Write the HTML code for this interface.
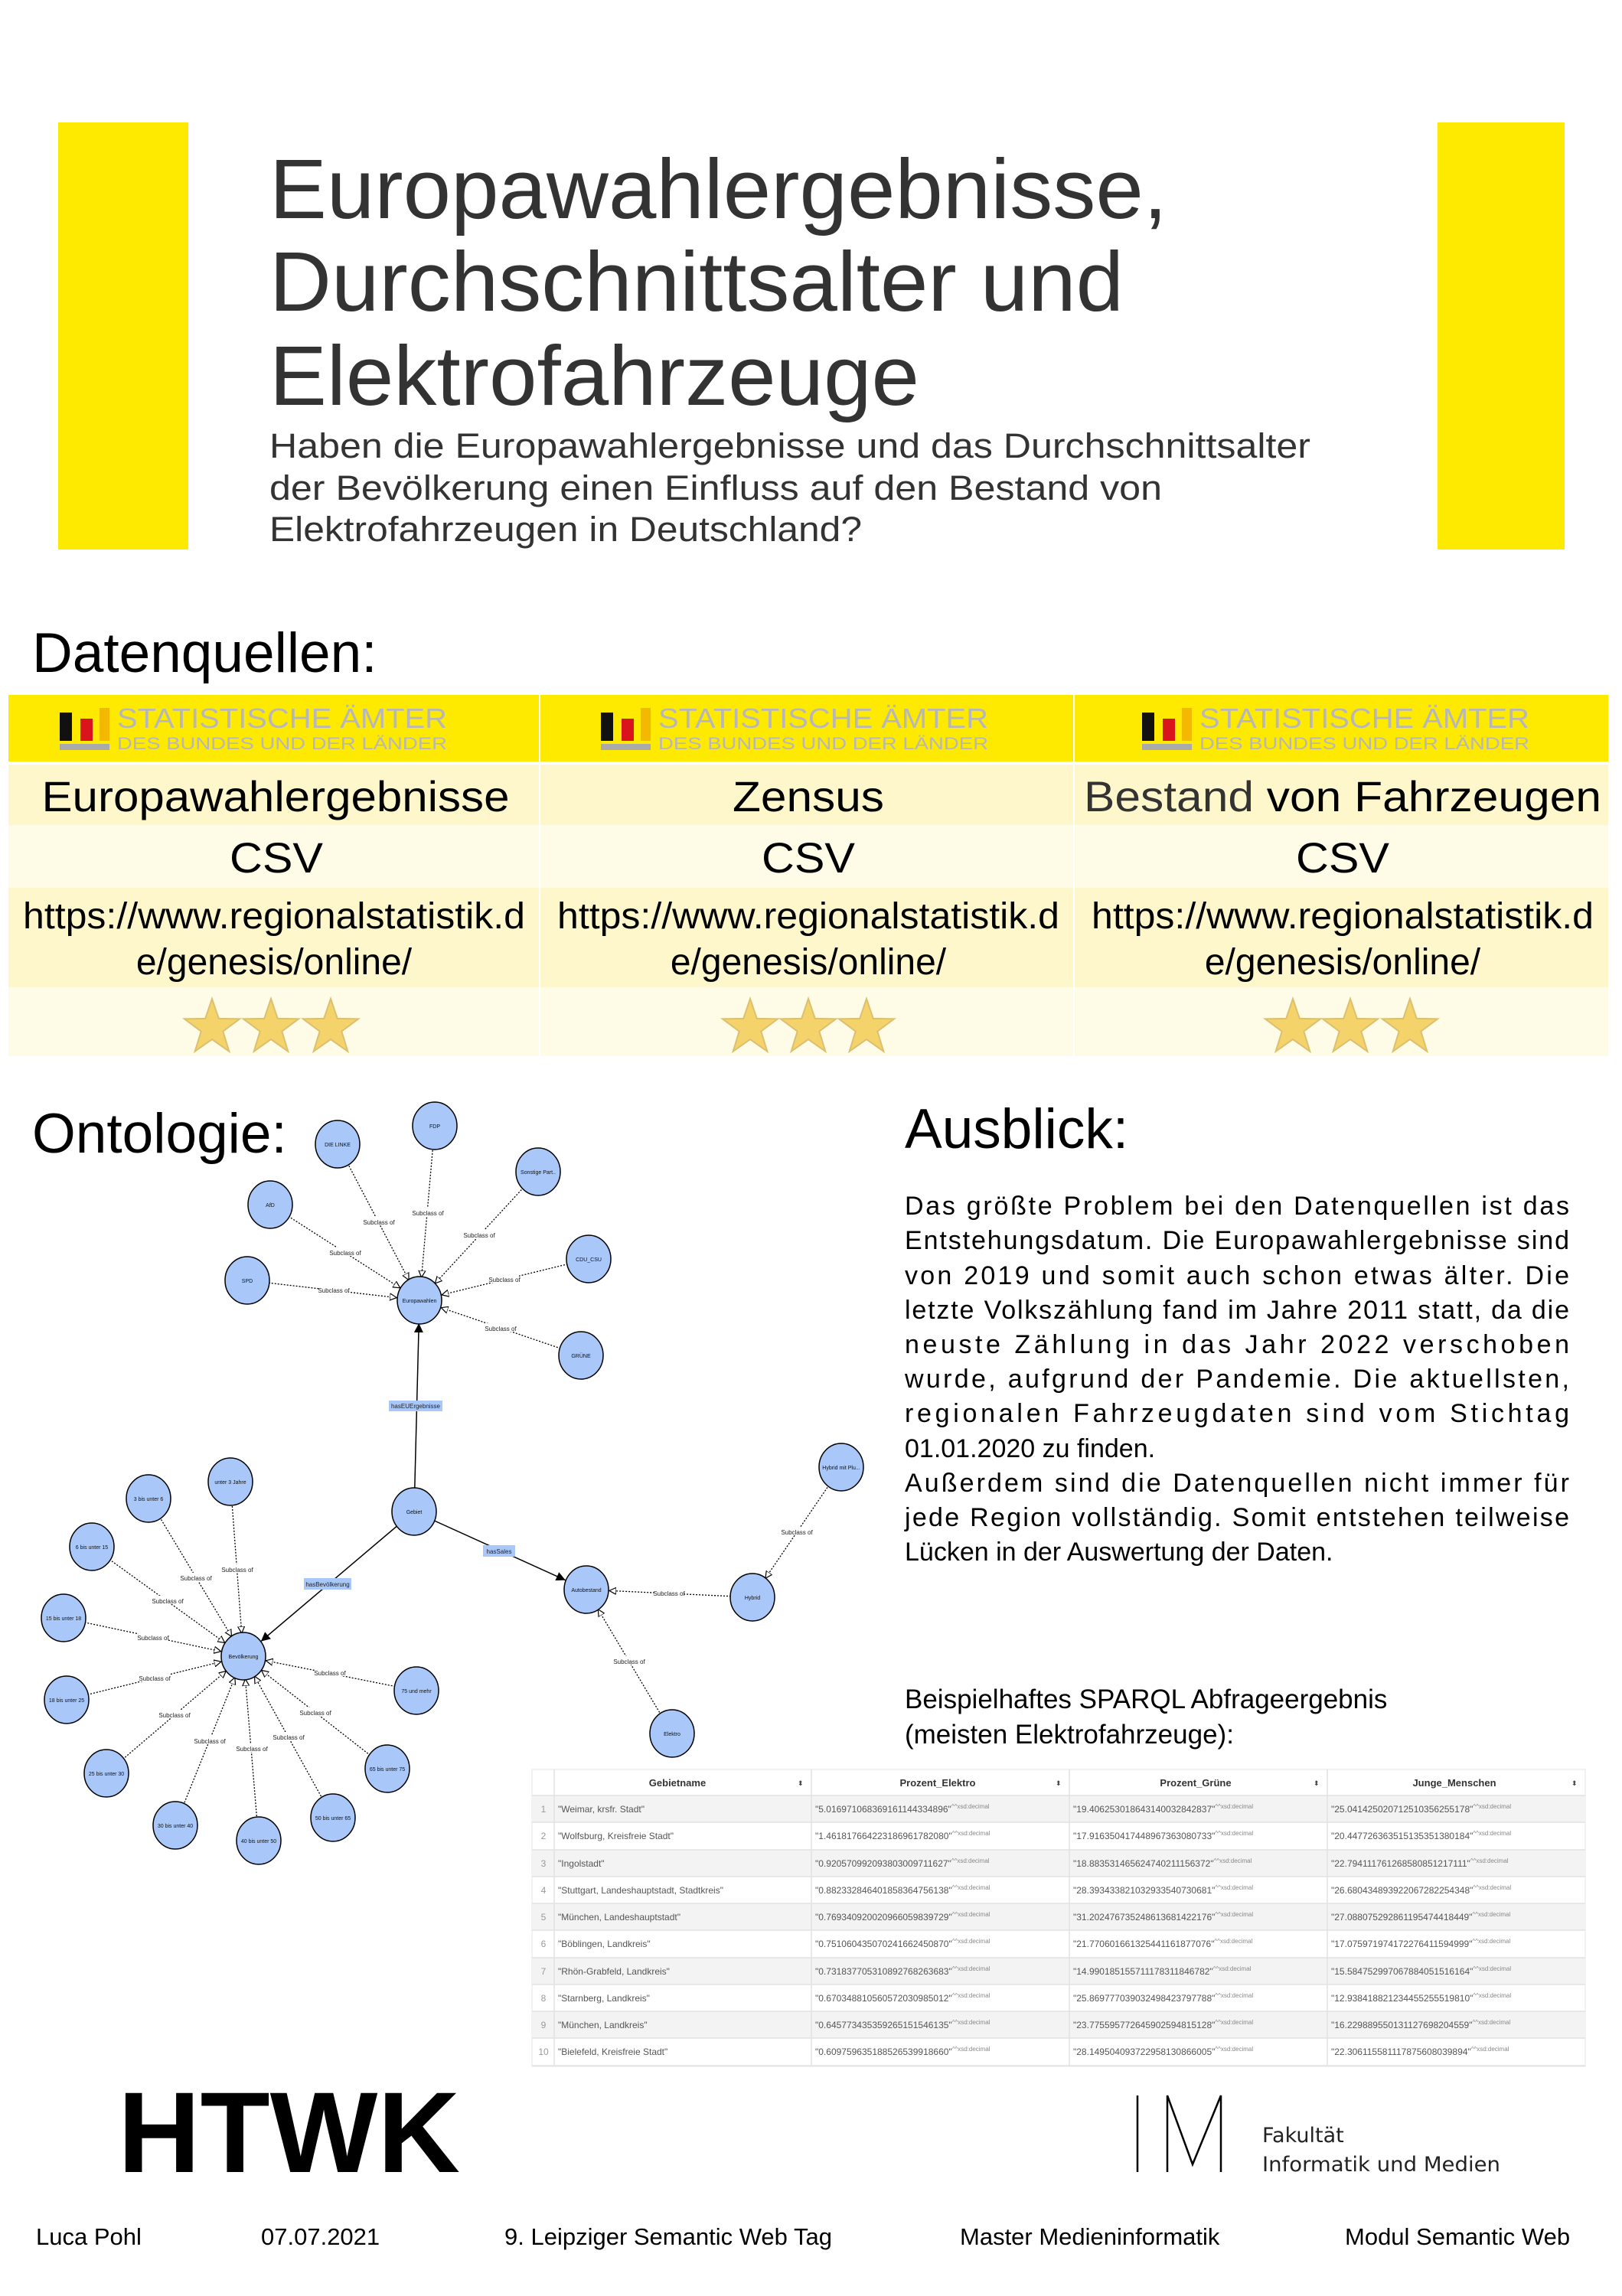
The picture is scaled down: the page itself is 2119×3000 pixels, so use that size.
<!DOCTYPE html>
<html><head><meta charset="utf-8"><style>
html,body{margin:0;padding:0;background:#fff}
svg{display:block}
</style></head><body>
<svg width="2119" height="3000" viewBox="0 0 2119 3000" xmlns="http://www.w3.org/2000/svg" font-family="Liberation Sans, sans-serif">
<defs>
<marker id="op" markerUnits="userSpaceOnUse" viewBox="0 0 10 10" markerWidth="10" markerHeight="10" refX="39" refY="5" orient="auto"><path d="M0,0.5 L9,5 L0,9.5 z" fill="#fff" stroke="#000" stroke-width="1.2"/></marker>
<marker id="fl" markerUnits="userSpaceOnUse" viewBox="0 0 12 12" markerWidth="12" markerHeight="12" refX="42" refY="6" orient="auto"><path d="M0,0 L12,6 L0,12 z" fill="#000"/></marker>
<polygon id="star" points="0,-38 8.8,-12.1 36.1,-11.7 14.3,4.6 22.3,30.7 0,15 -22.3,30.7 -14.3,4.6 -36.1,-11.7 -8.8,-12.1" fill="#f4d36b" stroke="#dcc070" stroke-width="2"/>
</defs>
<rect width="2119" height="3000" fill="#fff"/>

<!-- header -->
<rect x="76" y="160" width="170" height="558" fill="#feea00"/>
<rect x="1878" y="160" width="166" height="558" fill="#feea00"/>
<g fill="#333">
<text x="352" y="285" font-size="110" textLength="1173" lengthAdjust="spacingAndGlyphs">Europawahlergebnisse,</text>
<text x="352" y="406" font-size="110" textLength="1116" lengthAdjust="spacingAndGlyphs">Durchschnittsalter und</text>
<text x="352" y="529" font-size="110" textLength="849" lengthAdjust="spacingAndGlyphs">Elektrofahrzeuge</text>
<text x="352" y="598" font-size="45" textLength="1360" lengthAdjust="spacingAndGlyphs">Haben die Europawahlergebnisse und das Durchschnittsalter</text>
<text x="352" y="653" font-size="45" textLength="1166" lengthAdjust="spacingAndGlyphs">der Bevölkerung einen Einfluss auf den Bestand von</text>
<text x="352" y="707" font-size="45" textLength="774" lengthAdjust="spacingAndGlyphs">Elektrofahrzeugen in Deutschland?</text>
</g>

<text x="42" y="878" font-size="73" fill="#000">Datenquellen:</text>

<!-- sources table -->
<rect x="11" y="908" width="2090" height="87" fill="#feea00"/>
<rect x="11" y="999" width="2090" height="79" fill="#fef7cc"/>
<rect x="11" y="1078" width="2090" height="82" fill="#fefbe6"/>
<rect x="11" y="1160" width="2090" height="130" fill="#fef7cc"/>
<rect x="11" y="1290" width="2090" height="90" fill="#fefbe6"/>
<rect x="704" y="908" width="2" height="472" fill="#fff"/>
<rect x="1402" y="908" width="2" height="472" fill="#fff"/>
<g id="logo">
<rect x="78" y="931" width="16" height="37" fill="#111"/>
<rect x="105" y="939" width="16" height="29" fill="#d9141c"/>
<rect x="130" y="925" width="13" height="43" fill="#f5b800"/>
<rect x="78" y="972" width="65" height="8" fill="#aaa"/>
<text x="153" y="951" font-size="36" fill="#b6b6bc" textLength="431" lengthAdjust="spacingAndGlyphs">STATISTISCHE ÄMTER</text>
<text x="153" y="979" font-size="22" fill="#b6b6bc" textLength="431" lengthAdjust="spacingAndGlyphs">DES BUNDES UND DER LÄNDER</text>
</g>
<use href="#logo" x="707"/>
<use href="#logo" x="1414"/>
<g font-size="56" fill="#000" text-anchor="middle">
<text x="360" y="1060" textLength="611" lengthAdjust="spacingAndGlyphs">Europawahlergebnisse</text>
<text x="1056" y="1060" textLength="198" lengthAdjust="spacingAndGlyphs">Zensus</text>
<text x="1754" y="1060" textLength="676" lengthAdjust="spacingAndGlyphs"><tspan fill="#333">Bestand</tspan> von Fahrzeugen</text>
<text x="361" y="1140" textLength="122" lengthAdjust="spacingAndGlyphs">CSV</text>
<text x="1056" y="1140" textLength="122" lengthAdjust="spacingAndGlyphs">CSV</text>
<text x="1754" y="1140" textLength="122" lengthAdjust="spacingAndGlyphs">CSV</text>
</g>
<g font-size="48" fill="#000" text-anchor="middle">
<text x="358" y="1213" textLength="656" lengthAdjust="spacingAndGlyphs">https://www.regionalstatistik.d</text>
<text x="358" y="1273">e/genesis/online/</text>
<text x="1056" y="1213" textLength="656" lengthAdjust="spacingAndGlyphs">https://www.regionalstatistik.d</text>
<text x="1056" y="1273">e/genesis/online/</text>
<text x="1754" y="1213" textLength="656" lengthAdjust="spacingAndGlyphs">https://www.regionalstatistik.d</text>
<text x="1754" y="1273">e/genesis/online/</text>
</g>
<use href="#star" x="277" y="1343"/><use href="#star" x="354" y="1343"/><use href="#star" x="432" y="1343"/>
<use href="#star" x="980" y="1343"/><use href="#star" x="1056" y="1343"/><use href="#star" x="1132" y="1343"/>
<use href="#star" x="1689" y="1343"/><use href="#star" x="1764" y="1343"/><use href="#star" x="1842" y="1343"/>

<text x="42" y="1506" font-size="73" fill="#000">Ontologie:</text>

<!-- ontology edges -->
<g stroke="#000" stroke-width="1.3" stroke-dasharray="2,2" fill="none" marker-end="url(#op)">
<line x1="441" y1="1495" x2="548" y2="1699"/>
<line x1="568" y1="1471" x2="548" y2="1699"/>
<line x1="703" y1="1531" x2="548" y2="1699"/>
<line x1="353" y1="1574" x2="548" y2="1699"/>
<line x1="769" y1="1645" x2="548" y2="1699"/>
<line x1="323" y1="1673" x2="548" y2="1699"/>
<line x1="759" y1="1771" x2="548" y2="1699"/>
<line x1="1099" y1="1917" x2="983" y2="2087"/>
<line x1="983" y1="2087" x2="766" y2="2077"/>
<line x1="878" y1="2265" x2="766" y2="2077"/>
<line x1="301" y1="1936" x2="318" y2="2164"/>
<line x1="194" y1="1958" x2="318" y2="2164"/>
<line x1="120" y1="2021" x2="318" y2="2164"/>
<line x1="83" y1="2114" x2="318" y2="2164"/>
<line x1="87" y1="2221" x2="318" y2="2164"/>
<line x1="544" y1="2209" x2="318" y2="2164"/>
<line x1="139" y1="2317" x2="318" y2="2164"/>
<line x1="506" y1="2311" x2="318" y2="2164"/>
<line x1="229" y1="2385" x2="318" y2="2164"/>
<line x1="435" y1="2375" x2="318" y2="2164"/>
<line x1="338" y1="2405" x2="318" y2="2164"/>
</g>
<g stroke="#000" stroke-width="1.5" fill="none" marker-end="url(#fl)">
<line x1="541" y1="1975" x2="548" y2="1699"/>
<line x1="541" y1="1975" x2="318" y2="2164"/>
<line x1="541" y1="1975" x2="766" y2="2077"/>
</g>
<!-- subclass labels -->
<g font-size="8" fill="#222" text-anchor="middle">
<g fill="#fff"><rect x="432" y="1630" width="38" height="11"/><rect x="476" y="1590" width="38" height="11"/><rect x="540" y="1578" width="38" height="11"/><rect x="607" y="1607" width="38" height="11"/><rect x="640" y="1665" width="38" height="11"/><rect x="417" y="1679" width="38" height="11"/><rect x="635" y="1729" width="38" height="11"/><rect x="1022" y="1995" width="38" height="11"/><rect x="855" y="2075" width="38" height="11"/><rect x="803" y="2164" width="38" height="11"/><rect x="291" y="2044" width="38" height="11"/><rect x="237" y="2055" width="38" height="11"/><rect x="200" y="2085" width="38" height="11"/><rect x="181" y="2133" width="38" height="11"/><rect x="183" y="2186" width="38" height="11"/><rect x="209" y="2234" width="38" height="11"/><rect x="255" y="2268" width="38" height="11"/><rect x="310" y="2278" width="38" height="11"/><rect x="358" y="2263" width="38" height="11"/><rect x="393" y="2231" width="38" height="11"/><rect x="412" y="2179" width="38" height="11"/></g>
<text x="451" y="1640">Subclass of</text><text x="495" y="1600">Subclass of</text><text x="559" y="1588">Subclass of</text><text x="626" y="1617">Subclass of</text><text x="659" y="1675">Subclass of</text><text x="436" y="1689">Subclass of</text><text x="654" y="1739">Subclass of</text><text x="1041" y="2005">Subclass of</text><text x="874" y="2085">Subclass of</text><text x="822" y="2174">Subclass of</text><text x="310" y="2054">Subclass of</text><text x="256" y="2065">Subclass of</text><text x="219" y="2095">Subclass of</text><text x="200" y="2143">Subclass of</text><text x="202" y="2196">Subclass of</text><text x="228" y="2244">Subclass of</text><text x="274" y="2278">Subclass of</text><text x="329" y="2288">Subclass of</text><text x="377" y="2273">Subclass of</text><text x="412" y="2241">Subclass of</text><text x="431" y="2189">Subclass of</text>
</g>
<!-- property labels -->
<g font-size="8" fill="#222" text-anchor="middle">
<rect x="508" y="1830" width="70" height="14" fill="#a9c8f9"/><text x="543" y="1840">hasEUErgebnisse</text>
<rect x="631" y="2019" width="42" height="15" fill="#a9c8f9"/><text x="652" y="2030">hasSales</text>
<rect x="397" y="2062" width="62" height="15" fill="#a9c8f9"/><text x="428" y="2073">hasBevölkerung</text>
</g>
<!-- nodes -->
<g fill="#a9c8f9" stroke="#000" stroke-width="1.5">
<ellipse cx="441" cy="1495" rx="29" ry="31"/><ellipse cx="568" cy="1471" rx="29" ry="31"/><ellipse cx="703" cy="1531" rx="29" ry="31"/><ellipse cx="353" cy="1574" rx="29" ry="31"/><ellipse cx="769" cy="1645" rx="29" ry="31"/><ellipse cx="323" cy="1673" rx="29" ry="31"/><ellipse cx="548" cy="1699" rx="29" ry="31"/><ellipse cx="759" cy="1771" rx="29" ry="31"/>
<ellipse cx="541" cy="1975" rx="29" ry="31"/><ellipse cx="766" cy="2077" rx="29" ry="31"/><ellipse cx="1099" cy="1917" rx="29" ry="31"/><ellipse cx="983" cy="2087" rx="29" ry="31"/><ellipse cx="878" cy="2265" rx="29" ry="31"/>
<ellipse cx="301" cy="1936" rx="29" ry="31"/><ellipse cx="194" cy="1958" rx="29" ry="31"/><ellipse cx="120" cy="2021" rx="29" ry="31"/><ellipse cx="83" cy="2114" rx="29" ry="31"/><ellipse cx="318" cy="2164" rx="29" ry="31"/><ellipse cx="87" cy="2221" rx="29" ry="31"/><ellipse cx="544" cy="2209" rx="29" ry="31"/><ellipse cx="139" cy="2317" rx="29" ry="31"/><ellipse cx="506" cy="2311" rx="29" ry="31"/><ellipse cx="229" cy="2385" rx="29" ry="31"/><ellipse cx="435" cy="2375" rx="29" ry="31"/><ellipse cx="338" cy="2405" rx="29" ry="31"/>
</g>
<g font-size="7" fill="#111" text-anchor="middle">
<text x="441" y="1498">DIE LINKE</text><text x="568" y="1474">FDP</text><text x="703" y="1534">Sonstige Part..</text><text x="353" y="1577">AfD</text><text x="769" y="1648">CDU_CSU</text><text x="323" y="1676">SPD</text><text x="548" y="1702">Europawahlen</text><text x="759" y="1774">GRÜNE</text>
<text x="541" y="1978">Gebiet</text><text x="766" y="2080">Autobestand</text><text x="1099" y="1920">Hybrid mit Plu...</text><text x="983" y="2090">Hybrid</text><text x="878" y="2268">Elektro</text>
<text x="301" y="1939">unter 3 Jahre</text><text x="194" y="1961">3 bis unter 6</text><text x="120" y="2024">6 bis unter 15</text><text x="83" y="2117">15 bis unter 18</text><text x="318" y="2167">Bevölkerung</text><text x="87" y="2224">18 bis unter 25</text><text x="544" y="2212">75 und mehr</text><text x="139" y="2320">25 bis unter 30</text><text x="506" y="2314">65 bis unter 75</text><text x="229" y="2388">30 bis unter 40</text><text x="435" y="2378">50 bis unter 65</text><text x="338" y="2408">40 bis unter 50</text>
</g>

<!-- Ausblick -->
<text x="1182" y="1500" font-size="73" fill="#000">Ausblick:</text>
<g font-size="34" fill="#000">
<text x="1182" y="1587" textLength="868" lengthAdjust="spacing">Das größte Problem bei den Datenquellen ist das</text>
<text x="1182" y="1632" textLength="868" lengthAdjust="spacing">Entstehungsdatum. Die Europawahlergebnisse sind</text>
<text x="1182" y="1678" textLength="868" lengthAdjust="spacing">von 2019 und somit auch schon etwas älter. Die</text>
<text x="1182" y="1723" textLength="868" lengthAdjust="spacing">letzte Volkszählung fand im Jahre 2011 statt, da die</text>
<text x="1182" y="1768" textLength="868" lengthAdjust="spacing">neuste Zählung in das Jahr 2022 verschoben</text>
<text x="1182" y="1813" textLength="868" lengthAdjust="spacing">wurde, aufgrund der Pandemie. Die aktuellsten,</text>
<text x="1182" y="1858" textLength="868" lengthAdjust="spacing">regionalen Fahrzeugdaten sind vom Stichtag</text>
<text x="1182" y="1904">01.01.2020 zu finden.</text>
<text x="1182" y="1949" textLength="868" lengthAdjust="spacing">Außerdem sind die Datenquellen nicht immer für</text>
<text x="1182" y="1994" textLength="868" lengthAdjust="spacing">jede Region vollständig. Somit entstehen teilweise</text>
<text x="1182" y="2039">Lücken in der Auswertung der Daten.</text>
</g>
<g font-size="35" fill="#000">
<text x="1182" y="2232">Beispielhaftes SPARQL Abfrageergebnis</text>
<text x="1182" y="2278">(meisten Elektrofahrzeuge):</text>
</g>

<!-- result table -->
<g>
<rect x="695" y="2312" width="1376" height="388" fill="#fff" stroke="#e6e6e6"/>
<g fill="#f3f3f3">
<rect x="695" y="2346" width="1376" height="35"/><rect x="695" y="2417" width="1376" height="35"/><rect x="695" y="2487" width="1376" height="35"/><rect x="695" y="2558" width="1376" height="35"/><rect x="695" y="2628" width="1376" height="35"/>
</g>
<g stroke="#e2e2e2" stroke-width="1.5">
<line x1="695" y1="2346" x2="2071" y2="2346"/><line x1="695" y1="2381" x2="2071" y2="2381"/><line x1="695" y1="2417" x2="2071" y2="2417"/><line x1="695" y1="2452" x2="2071" y2="2452"/><line x1="695" y1="2487" x2="2071" y2="2487"/><line x1="695" y1="2522" x2="2071" y2="2522"/><line x1="695" y1="2558" x2="2071" y2="2558"/><line x1="695" y1="2593" x2="2071" y2="2593"/><line x1="695" y1="2628" x2="2071" y2="2628"/><line x1="695" y1="2663" x2="2071" y2="2663"/><line x1="695" y1="2699" x2="2071" y2="2699"/>
<line x1="724" y1="2312" x2="724" y2="2699"/><line x1="1060" y1="2312" x2="1060" y2="2699"/><line x1="1397" y1="2312" x2="1397" y2="2699"/><line x1="1734" y1="2312" x2="1734" y2="2699"/>
</g>
<g font-size="13" font-weight="bold" fill="#333" text-anchor="middle">
<text x="885" y="2334">Gebietname</text><text x="1225" y="2334">Prozent_Elektro</text><text x="1562" y="2334">Prozent_Grüne</text><text x="1900" y="2334">Junge_Menschen</text>
</g>
<g font-size="9" fill="#444"><text x="1042" y="2333">⬍</text><text x="1379" y="2333">⬍</text><text x="1716" y="2333">⬍</text><text x="2053" y="2333">⬍</text></g>
<g font-size="12" fill="#999" text-anchor="middle">
<text x="710" y="2368">1</text><text x="710" y="2403">2</text><text x="710" y="2439">3</text><text x="710" y="2474">4</text><text x="710" y="2509">5</text><text x="710" y="2544">6</text><text x="710" y="2580">7</text><text x="710" y="2615">8</text><text x="710" y="2650">9</text><text x="710" y="2685">10</text>
</g>
<g font-size="12" fill="#555">
<text x="729" y="2368">"Weimar, krsfr. Stadt"</text>
<text x="729" y="2403">"Wolfsburg, Kreisfreie Stadt"</text>
<text x="729" y="2439">"Ingolstadt"</text>
<text x="729" y="2474">"Stuttgart, Landeshauptstadt, Stadtkreis"</text>
<text x="729" y="2509">"München, Landeshauptstadt"</text>
<text x="729" y="2544">"Böblingen, Landkreis"</text>
<text x="729" y="2580">"Rhön-Grabfeld, Landkreis"</text>
<text x="729" y="2615">"Starnberg, Landkreis"</text>
<text x="729" y="2650">"München, Landkreis"</text>
<text x="729" y="2685">"Bielefeld, Kreisfreie Stadt"</text>
<text x="1065" y="2368">"5.016971068369161144334896"<tspan font-size="8" fill="#888" dy="-5">^^xsd:decimal</tspan></text>
<text x="1065" y="2403">"1.461817664223186961782080"<tspan font-size="8" fill="#888" dy="-5">^^xsd:decimal</tspan></text>
<text x="1065" y="2439">"0.920570992093803009711627"<tspan font-size="8" fill="#888" dy="-5">^^xsd:decimal</tspan></text>
<text x="1065" y="2474">"0.882332846401858364756138"<tspan font-size="8" fill="#888" dy="-5">^^xsd:decimal</tspan></text>
<text x="1065" y="2509">"0.769340920020966059839729"<tspan font-size="8" fill="#888" dy="-5">^^xsd:decimal</tspan></text>
<text x="1065" y="2544">"0.751060435070241662450870"<tspan font-size="8" fill="#888" dy="-5">^^xsd:decimal</tspan></text>
<text x="1065" y="2580">"0.731837705310892768263683"<tspan font-size="8" fill="#888" dy="-5">^^xsd:decimal</tspan></text>
<text x="1065" y="2615">"0.670348810560572030985012"<tspan font-size="8" fill="#888" dy="-5">^^xsd:decimal</tspan></text>
<text x="1065" y="2650">"0.645773435359265151546135"<tspan font-size="8" fill="#888" dy="-5">^^xsd:decimal</tspan></text>
<text x="1065" y="2685">"0.609759635188526539918660"<tspan font-size="8" fill="#888" dy="-5">^^xsd:decimal</tspan></text>
<text x="1402" y="2368">"19.406253018643140032842837"<tspan font-size="8" fill="#888" dy="-5">^^xsd:decimal</tspan></text>
<text x="1402" y="2403">"17.916350417448967363080733"<tspan font-size="8" fill="#888" dy="-5">^^xsd:decimal</tspan></text>
<text x="1402" y="2439">"18.883531465624740211156372"<tspan font-size="8" fill="#888" dy="-5">^^xsd:decimal</tspan></text>
<text x="1402" y="2474">"28.393433821032933540730681"<tspan font-size="8" fill="#888" dy="-5">^^xsd:decimal</tspan></text>
<text x="1402" y="2509">"31.202476735248613681422176"<tspan font-size="8" fill="#888" dy="-5">^^xsd:decimal</tspan></text>
<text x="1402" y="2544">"21.770601661325441161877076"<tspan font-size="8" fill="#888" dy="-5">^^xsd:decimal</tspan></text>
<text x="1402" y="2580">"14.990185155711178311846782"<tspan font-size="8" fill="#888" dy="-5">^^xsd:decimal</tspan></text>
<text x="1402" y="2615">"25.869777039032498423797788"<tspan font-size="8" fill="#888" dy="-5">^^xsd:decimal</tspan></text>
<text x="1402" y="2650">"23.775595772645902594815128"<tspan font-size="8" fill="#888" dy="-5">^^xsd:decimal</tspan></text>
<text x="1402" y="2685">"28.149504093722958130866005"<tspan font-size="8" fill="#888" dy="-5">^^xsd:decimal</tspan></text>
<text x="1739" y="2368">"25.041425020712510356255178"<tspan font-size="8" fill="#888" dy="-5">^^xsd:decimal</tspan></text>
<text x="1739" y="2403">"20.447726363515135351380184"<tspan font-size="8" fill="#888" dy="-5">^^xsd:decimal</tspan></text>
<text x="1739" y="2439">"22.794111761268580851217111"<tspan font-size="8" fill="#888" dy="-5">^^xsd:decimal</tspan></text>
<text x="1739" y="2474">"26.680434893922067282254348"<tspan font-size="8" fill="#888" dy="-5">^^xsd:decimal</tspan></text>
<text x="1739" y="2509">"27.088075292861195474418449"<tspan font-size="8" fill="#888" dy="-5">^^xsd:decimal</tspan></text>
<text x="1739" y="2544">"17.075971974172276411594999"<tspan font-size="8" fill="#888" dy="-5">^^xsd:decimal</tspan></text>
<text x="1739" y="2580">"15.584752997067884051516164"<tspan font-size="8" fill="#888" dy="-5">^^xsd:decimal</tspan></text>
<text x="1739" y="2615">"12.938418821234455255519810"<tspan font-size="8" fill="#888" dy="-5">^^xsd:decimal</tspan></text>
<text x="1739" y="2650">"16.229889550131127698204559"<tspan font-size="8" fill="#888" dy="-5">^^xsd:decimal</tspan></text>
<text x="1739" y="2685">"22.306115581117875608039894"<tspan font-size="8" fill="#888" dy="-5">^^xsd:decimal</tspan></text>
</g>
</g>

<!-- footer logos -->
<text x="154" y="2838" font-size="150" font-weight="bold" fill="#000" textLength="447" lengthAdjust="spacingAndGlyphs">HTWK</text>
<g stroke="#000" stroke-width="2.5" fill="none">
<line x1="1486" y1="2738" x2="1486" y2="2838"/>
<polyline points="1525,2838 1525,2738 1558,2828 1595,2738 1595,2838"/>
</g>
<g font-family="DejaVu Sans, sans-serif" font-size="27" fill="#222">
<text x="1649" y="2799">Fakultät</text>
<text x="1649" y="2837" textLength="311" lengthAdjust="spacingAndGlyphs">Informatik und Medien</text>
</g>
<g font-size="31" fill="#000">
<text x="47" y="2933">Luca Pohl</text>
<text x="341" y="2933">07.07.2021</text>
<text x="659" y="2933">9. Leipziger Semantic Web Tag</text>
<text x="1254" y="2933">Master Medieninformatik</text>
<text x="1757" y="2933">Modul Semantic Web</text>
</g>
</svg>
</body></html>
